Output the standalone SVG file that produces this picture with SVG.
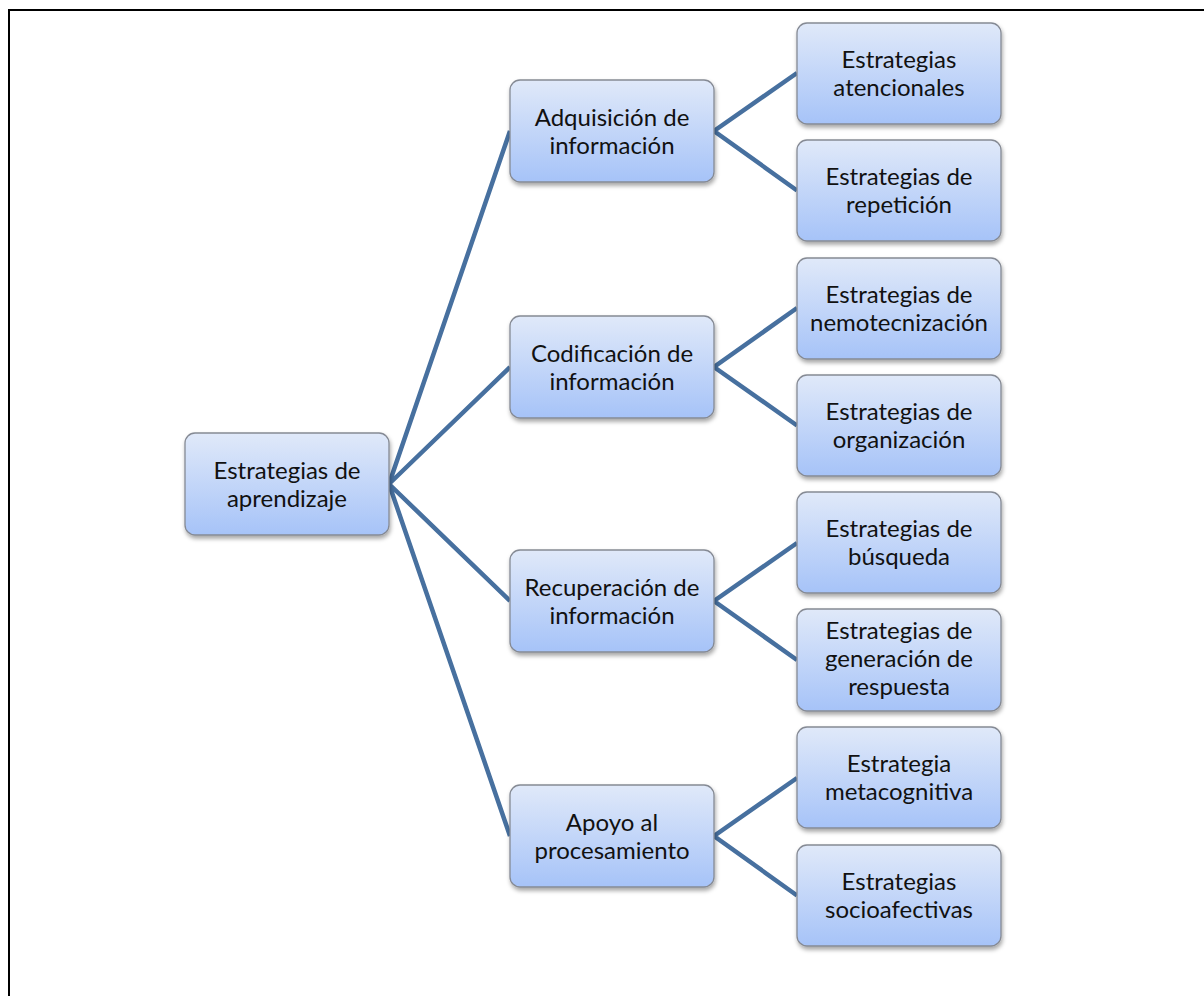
<svg xmlns="http://www.w3.org/2000/svg" width="1204" height="996" viewBox="0 0 1204 996">
<defs>
<linearGradient id="g" x1="0" y1="0" x2="0" y2="1">
<stop offset="0" stop-color="#e0e9f9"/>
<stop offset="1" stop-color="#a6c3f8"/>
</linearGradient>
<filter id="sh" x="-10%" y="-10%" width="130%" height="140%">
<feDropShadow dx="1" dy="3" stdDeviation="2" flood-color="#000" flood-opacity="0.35"/>
</filter>
</defs>
<style>
.box{fill:url(#g);stroke:#858a94;stroke-width:1.3;filter:url(#sh)}
.t{font-family:Lato,"Open Sans","Liberation Sans",sans-serif;font-size:24px;fill:#111;text-anchor:middle}
.c{stroke:#47709f;stroke-width:4.5;fill:none;stroke-linejoin:miter}
</style>
<rect width="1204" height="996" fill="#fff"/>
<path d="M9,996 V10 H1204" fill="none" stroke="#000" stroke-width="2"/>
<g id="connectors">
<path class="c" d="M389,484 L510,131 M389,484 L510,367 M389,484 L510,601 M389,484 L510,836"/>
<path class="c" d="M797,73 L714,131 L797,190.5"/>
<path class="c" d="M797,308 L714,367 L797,425.5"/>
<path class="c" d="M797,543 L714,601 L797,660"/>
<path class="c" d="M797,778 L714,836 L797,895.5"/>
</g>
<g id="n-root"><rect class="box" x="185" y="433" width="204" height="102" rx="10"/><text class="t" x="287" y="479">Estrategias de</text><text class="t" x="287" y="507">aprendizaje</text></g>
<g id="n-adq"><rect class="box" x="510" y="80" width="204" height="102" rx="10"/><text class="t" x="612" y="126">Adquisición de</text><text class="t" x="612" y="154">información</text></g>
<g id="n-cod"><rect class="box" x="510" y="316" width="204" height="102" rx="10"/><text class="t" x="612" y="362">Codificación de</text><text class="t" x="612" y="390">información</text></g>
<g id="n-rec"><rect class="box" x="510" y="550" width="204" height="102" rx="10"/><text class="t" x="612" y="596">Recuperación de</text><text class="t" x="612" y="624">información</text></g>
<g id="n-apo"><rect class="box" x="510" y="785" width="204" height="102" rx="10"/><text class="t" x="612" y="831">Apoyo al</text><text class="t" x="612" y="859">procesamiento</text></g>
<g id="n-ate"><rect class="box" x="797" y="23" width="204" height="101" rx="10"/><text class="t" x="899" y="68">Estrategias</text><text class="t" x="899" y="96">atencionales</text></g>
<g id="n-rep"><rect class="box" x="797" y="140" width="204" height="101" rx="10"/><text class="t" x="899" y="185">Estrategias de</text><text class="t" x="899" y="213">repetición</text></g>
<g id="n-nem"><rect class="box" x="797" y="258" width="204" height="101" rx="10"/><text class="t" x="899" y="303">Estrategias de</text><text class="t" x="899" y="331">nemotecnización</text></g>
<g id="n-org"><rect class="box" x="797" y="375" width="204" height="101" rx="10"/><text class="t" x="899" y="420">Estrategias de</text><text class="t" x="899" y="448">organización</text></g>
<g id="n-bus"><rect class="box" x="797" y="492" width="204" height="101" rx="10"/><text class="t" x="899" y="537">Estrategias de</text><text class="t" x="899" y="565">búsqueda</text></g>
<g id="n-gen"><rect class="box" x="797" y="609" width="204" height="102" rx="10"/><text class="t" x="899" y="639">Estrategias de</text><text class="t" x="899" y="667">generación de</text><text class="t" x="899" y="695">respuesta</text></g>
<g id="n-met"><rect class="box" x="797" y="727" width="204" height="101" rx="10"/><text class="t" x="899" y="772">Estrategia</text><text class="t" x="899" y="800">metacognitiva</text></g>
<g id="n-soc"><rect class="box" x="797" y="845" width="204" height="101" rx="10"/><text class="t" x="899" y="890">Estrategias</text><text class="t" x="899" y="918">socioafectivas</text></g>
</svg>
